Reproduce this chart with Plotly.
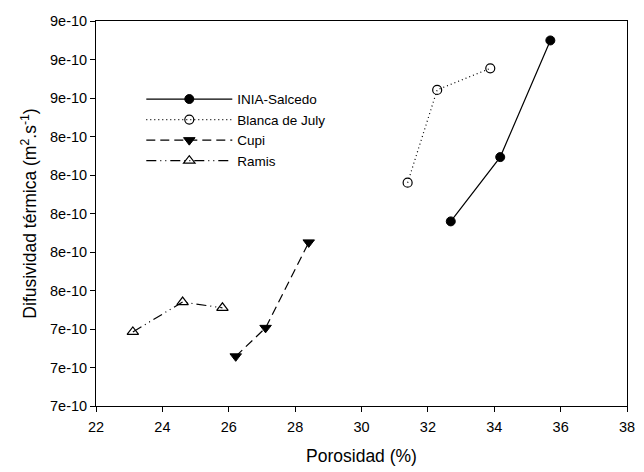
import plotly.graph_objects as go

# Data (porosity %, thermal diffusivity m2/s)
inia_x = [32.69, 34.18, 35.69]
inia_y = [7.959e-10, 8.293e-10, 8.899e-10]
blanca_x = [31.39, 32.28, 33.88]
blanca_y = [8.160e-10, 8.642e-10, 8.754e-10]
cupi_x = [26.21, 27.11, 28.41]
cupi_y = [7.258e-10, 7.406e-10, 7.850e-10]
ramis_x = [23.11, 24.61, 25.81]
ramis_y = [7.385e-10, 7.540e-10, 7.510e-10]

x_ticks = [22, 24, 26, 28, 30, 32, 34, 36, 38]
y_ticks = [7.0e-10, 7.2e-10, 7.4e-10, 7.6e-10, 7.8e-10, 8.0e-10,
           8.2e-10, 8.4e-10, 8.6e-10, 8.8e-10, 9.0e-10]
y_ticklabels = ["7e-10", "7e-10", "7e-10", "8e-10", "8e-10", "8e-10",
                "8e-10", "8e-10", "9e-10", "9e-10", "9e-10"]

FONT = "Liberation Sans, Arial, sans-serif"

fig = go.Figure()
fig.add_trace(go.Scatter(
    x=inia_x, y=inia_y, name="INIA-Salcedo", mode="lines+markers",
    line=dict(color="black", width=1.2, dash="solid"),
    marker=dict(symbol="circle", size=9, color="black", line=dict(color="black", width=1))))
fig.add_trace(go.Scatter(
    x=blanca_x, y=blanca_y, name="Blanca de July", mode="lines+markers",
    line=dict(color="black", width=1.2, dash="1px,3px"),
    marker=dict(symbol="circle-open", size=9, color="black", line=dict(color="black", width=1.2))))
fig.add_trace(go.Scatter(
    x=cupi_x, y=cupi_y, name="Cupi", mode="lines+markers",
    line=dict(color="black", width=1.2, dash="9px,5px"),
    marker=dict(symbol="triangle-down", size=10, color="black", line=dict(color="black", width=1))))
fig.add_trace(go.Scatter(
    x=ramis_x, y=ramis_y, name="Ramis", mode="lines+markers",
    line=dict(color="black", width=1.2, dash="10px,4px,1px,4px,1px,4px"),
    marker=dict(symbol="triangle-up-open", size=10, color="black", line=dict(color="black", width=1.2))))

fig.update_layout(
    width=644, height=472,
    margin=dict(l=96, r=9, t=21, b=64),
    paper_bgcolor="white", plot_bgcolor="white",
    font=dict(family=FONT, size=14.5, color="black"),
    showlegend=True,
    legend=dict(x=0.0853, y=0.837, xanchor="left", yanchor="top",
                bgcolor="rgba(0,0,0,0)", font=dict(size=13.5),
                tracegroupgap=0, itemwidth=86),
)
fig.update_xaxes(
    range=[22, 38], tickvals=x_ticks, ticktext=[str(v) for v in x_ticks],
    ticks="outside", ticklen=5, tickwidth=1, tickcolor="black",
    showline=True, linecolor="black", linewidth=1, mirror=True,
    showgrid=False, zeroline=False, tickfont=dict(size=14.5),
    ticklabeloverflow="allow", ticklabelstandoff=3,
    title=dict(text="Porosidad (%)", font=dict(size=17.5), standoff=15))
fig.update_yaxes(
    range=[7.0e-10, 9.0e-10], tickvals=y_ticks, ticktext=y_ticklabels,
    ticks="outside", ticklen=5, tickwidth=1, tickcolor="black",
    showline=True, linecolor="black", linewidth=1, mirror=True,
    showgrid=False, zeroline=False, tickfont=dict(size=14.5),
    ticklabeloverflow="allow",
    title=dict(text="Difusividad térmica (m<sup>2</sup>.s<sup>-1</sup>)",
               font=dict(size=17.5), standoff=8))

fig.write_html("out.html", config={"displayModeBar": False},
               post_script="document.body.style.margin='0';document.body.style.overflow='hidden';")
